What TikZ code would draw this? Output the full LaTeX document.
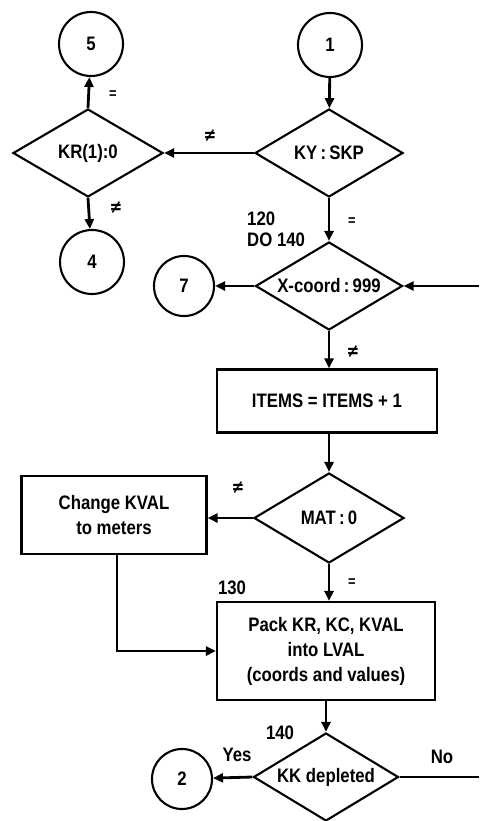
\documentclass[tikz,border=0pt]{standalone}
\usepackage{fontspec}
\setmainfont{Liberation Sans}[FakeStretch=0.86]
\newfontfamily\dvfont{DejaVu Sans}[FakeStretch=0.8]
\usetikzlibrary{shapes.geometric,arrows.meta}
\tikzset{
  every node/.style={font=\fontsize{19.5}{25}\selectfont\bfseries},
  conn/.style={line width=2.8pt,-{Triangle[length=10pt,width=9pt]}},
  plain/.style={line width=2.8pt},
  cnode/.style={circle,draw,line width=2.1pt,minimum size=64pt,inner sep=0pt},
  cnodes/.style={cnode,minimum size=60pt},
  dnode/.style={diamond,draw,line width=2.1pt,aspect=1.7,inner sep=0pt,minimum width=150pt,minimum height=88pt},
  bnode/.style={rectangle,draw,line width=2.1pt,align=center,inner sep=2pt},
  lbl/.style={inner sep=0pt},
  ne/.style={inner sep=0pt,font=\fontsize{19}{19}\selectfont\dvfont\bfseries\itshape},
  eqm/.style={inner sep=0pt,font=\fontsize{15}{15}\selectfont\bfseries}
}
\begin{document}
\begin{tikzpicture}[x=1pt,y=1pt]
\useasboundingbox (0,0) rectangle (479,-821);
% nodes
\node[cnode] (c5) at (91,-44) {5};
\node[dnode] (dkr) at (88,-153) {KR(1):0};
\node[cnode] (c4) at (92,-262) {4};
\node[cnode] (c1) at (330,-45) {1};
\node[dnode,minimum width=148pt] (dky) at (329,-153) {KY\,:\,SKP};
\node[dnode,minimum width=147pt] (dx) at (329,-286) {X-coord\,:\,999};
\node[cnodes] (c7) at (184,-286) {7};
\node[bnode,minimum width=220pt,minimum height=63pt] (ritems) at (327,-401) {ITEMS = ITEMS + 1};
\node[dnode,minimum height=90pt] (dmat) at (329,-518) {MAT\,:\,0};
\node[bnode,minimum width=185pt,minimum height=78pt] (rchange) at (114,-515) {Change KVAL\\to meters};
\node[bnode,minimum width=218pt,minimum height=98pt] (rpack) at (326,-651) {Pack KR, KC, KVAL\\into LVAL\\(coords and values)};
\node[dnode,minimum width=145pt] (dkk) at (326,-777) {KK depleted};
\node[cnodes] (c2) at (182,-779) {2};
\coordinate (inx) at (479,-286);
\coordinate (outkk) at (479,-777);
% labels
\node[eqm] (l1) at (113,-95) {=};
\node[ne] (l2) at (116,-208) {≠};
\node[ne] (l3) at (210,-136) {≠};
\node[eqm] (l4) at (352,-222) {=};
\node[lbl,align=left,anchor=north west,font=\fontsize{19.5}{21}\selectfont\bfseries] (l5) at (247,-212) {120\\DO 140};
\node[ne] (l6) at (353,-352) {≠};
\node[ne] (l7) at (238,-488) {≠};
\node[lbl] (l8) at (232,-588) {130};
\node[eqm] (l9) at (352,-583) {=};
\node[lbl] (l10) at (280,-733) {140};
\node[lbl] (l11) at (237,-755) {Yes};
\node[lbl] (l12) at (442,-757) {No};
% connectors
\draw[conn] (c1) -- (dky);
\draw[conn] (dky.west) -- (dkr.east);
\draw[conn] (dkr.north) -- (c5);
\draw[conn] (dkr.south) -- (c4);
\draw[conn] (dky.south) -- (dx.north);
\draw[conn] (inx) -- (dx.east);
\draw[conn] (dx.west) -- (c7);
\draw[conn] (dx.south) -- (dx.south |- ritems.north);
\draw[conn] (ritems.south -| dmat.north) -- (dmat.north);
\draw[conn] (dmat.west) -- (dmat.west -| rchange.east);
\draw[conn] (dmat.south) -- (dmat.south |- rpack.north);
\draw[conn] ([xshift=3pt]rchange.south) |- (rpack.west);
\draw[conn] (rpack.south -| dkk.north) -- (dkk.north);
\draw[conn] (dkk.west) -- (c2);
\draw[plain] (dkk.east) -- (outkk);
\end{tikzpicture}
\end{document}
